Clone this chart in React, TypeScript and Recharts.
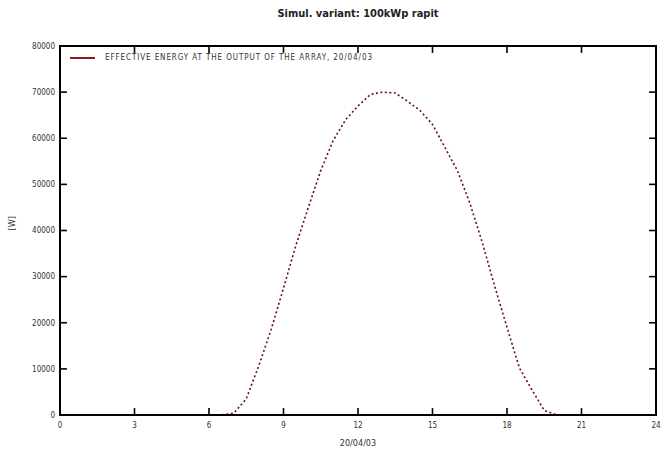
import { Label, Legend, Line, LineChart, ReferenceArea, ReferenceLine, XAxis, YAxis } from "recharts";

// hours of the day (0-24) and effective array energy
const hours = [0, 1, 2, 3, 4, 5, 6, 6.5, 7, 7.5, 8, 8.5, 9, 9.5, 10, 10.5, 11, 11.5, 12, 12.5, 13, 13.5, 14, 14.5, 15, 15.5, 16, 16.5, 17, 17.5, 18, 18.5, 19, 19.5, 20, 21, 22, 23, 24];
const energy = [0, 0, 0, 0, 0, 0, 0, 0, 400, 3500, 10600, 18500, 27500, 36800, 45000, 53000, 59500, 64000, 67000, 69500, 70000, 69800, 68000, 66000, 63000, 58000, 53000, 46000, 37500, 28000, 19000, 10200, 5500, 1000, 0, 0, 0, 0, 0];
const xTicks = [0, 3, 6, 9, 12, 15, 18, 21, 24];
const yTicks = [0, 10000, 20000, 30000, 40000, 50000, 60000, 70000, 80000];

const SERIES = "Effective energy at the output of the array, 20/04/03";
const FONT = "'DejaVu Sans Condensed', 'DejaVu Sans', sans-serif";

const X_MAX = 24;
const Y_MAX = 80000;
// inward tick lengths, in data units
const X_TICK_LEN = 1500;
const Y_TICK_LEN = 0.28;

const data = hours.map((h, i) => ({ h, e: energy[i] }));

const tickStyle = { fontSize: 8, fill: "#333", fontFamily: FONT };
const frame = { stroke: "#000", strokeWidth: 2 };

// inward tick marks on all four sides of the frame
const xTick = (t: number) => (
  <ReferenceLine segment={[{ x: t, y: 0 }, { x: t, y: X_TICK_LEN }]} stroke="#000" strokeWidth={1.6} ifOverflow="visible" />
);
const xTickTop = (t: number) => (
  <ReferenceLine segment={[{ x: t, y: Y_MAX - X_TICK_LEN }, { x: t, y: Y_MAX }]} stroke="#000" strokeWidth={1.6} ifOverflow="visible" />
);
const yTick = (t: number) => (
  <ReferenceLine segment={[{ x: 0, y: t }, { x: Y_TICK_LEN, y: t }]} stroke="#000" strokeWidth={1.6} ifOverflow="visible" />
);
const yTickRight = (t: number) => (
  <ReferenceLine segment={[{ x: X_MAX - Y_TICK_LEN, y: t }, { x: X_MAX, y: t }]} stroke="#000" strokeWidth={1.6} ifOverflow="visible" />
);

export default function App() {
  return (
    <div style={{ position: "absolute", left: 0, top: 0, width: 662, height: 449, background: "#fff" }}>
      <div
        style={{
          position: "absolute",
          left: 60,
          width: 596,
          top: 7,
          textAlign: "center",
          fontFamily: FONT,
          fontWeight: "bold",
          fontSize: 11,
          color: "#222",
        }}
      >
        Simul. variant: 100kWp rapit
      </div>
      <LineChart width={662} height={449} data={data} margin={{ top: 37, right: 6, left: 0, bottom: 0 }}>
        <XAxis
          dataKey="h"
          type="number"
          domain={[0, X_MAX]}
          ticks={xTicks}
          tickSize={0}
          tickMargin={7}
          tick={tickStyle}
          tickLine={false}
          height={34}
          axisLine={frame}
        >
          <Label value="20/04/03" position="insideBottom" offset={3} fontSize={9} fill="#333" fontFamily={FONT} />
        </XAxis>
        <YAxis
          type="number"
          domain={[0, Y_MAX]}
          ticks={yTicks}
          tickSize={0}
          tickMargin={5}
          tick={tickStyle}
          tickLine={false}
          width={60}
          axisLine={frame}
        >
          <Label value="[W]" angle={-90} position="insideLeft" offset={12} fontSize={9} fill="#333" fontFamily={FONT} />
        </YAxis>
        <ReferenceArea x1={0} x2={X_MAX} y1={0} y2={Y_MAX} fill="none" stroke="#000" strokeWidth={2} ifOverflow="visible" />
        {xTick(xTicks[1])}
        {xTick(xTicks[2])}
        {xTick(xTicks[3])}
        {xTick(xTicks[4])}
        {xTick(xTicks[5])}
        {xTick(xTicks[6])}
        {xTick(xTicks[7])}
        {xTickTop(xTicks[1])}
        {xTickTop(xTicks[2])}
        {xTickTop(xTicks[3])}
        {xTickTop(xTicks[4])}
        {xTickTop(xTicks[5])}
        {xTickTop(xTicks[6])}
        {xTickTop(xTicks[7])}
        {yTick(yTicks[1])}
        {yTick(yTicks[2])}
        {yTick(yTicks[3])}
        {yTick(yTicks[4])}
        {yTick(yTicks[5])}
        {yTick(yTicks[6])}
        {yTick(yTicks[7])}
        {yTickRight(yTicks[1])}
        {yTickRight(yTicks[2])}
        {yTickRight(yTicks[3])}
        {yTickRight(yTicks[4])}
        {yTickRight(yTicks[5])}
        {yTickRight(yTicks[6])}
        {yTickRight(yTicks[7])}
        <Legend
          layout="horizontal"
          verticalAlign="top"
          align="left"
          wrapperStyle={{ left: 70, top: 53, fontSize: 8, fontFamily: FONT, color: "#333" }}
          content={() => (
            <div style={{ display: "flex", alignItems: "center" }}>
              <span style={{ display: "inline-block", width: 25, height: 2, background: "#8b1a1a", marginRight: 10 }} />
              <span style={{ color: "#333", letterSpacing: 0.9 }}>{SERIES.toUpperCase()}</span>
            </div>
          )}
        />
        <Line
          dataKey="e"
          name={SERIES}
          type="linear"
          stroke="#6a0f0f"
          strokeWidth={1.6}
          strokeDasharray="2 2.5"
          dot={false}
          isAnimationActive={false}
        />
      </LineChart>
    </div>
  );
}
